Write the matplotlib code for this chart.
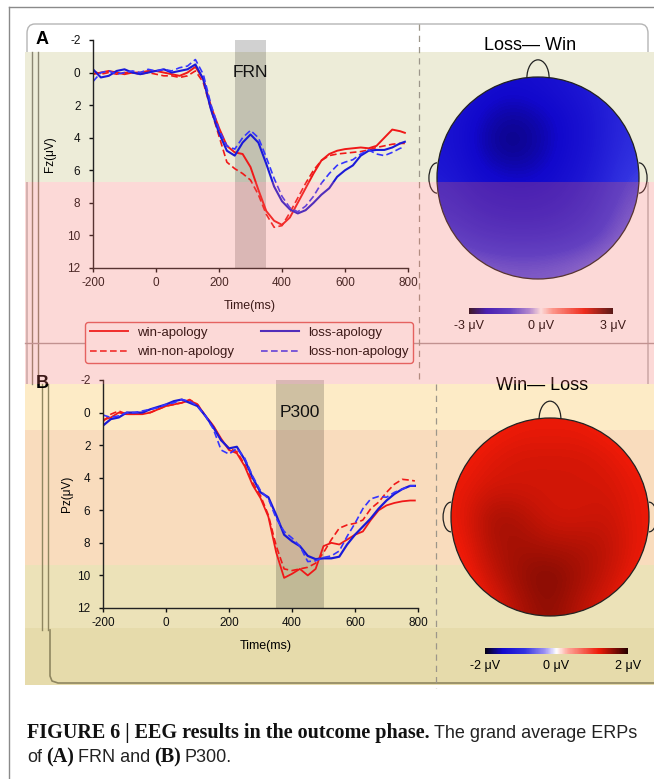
import numpy as np
import matplotlib
matplotlib.use("Agg")
import matplotlib.pyplot as plt
from matplotlib.colors import LinearSegmentedColormap, Normalize
from matplotlib.patches import Rectangle, Circle, Arc, FancyBboxPatch
from matplotlib.lines import Line2D
from matplotlib.cm import ScalarMappable

plt.rcParams['font.family'] = ['Liberation Sans', 'DejaVu Sans']
plt.rcParams['axes.unicode_minus'] = False

# ---- data ----
time_ms = list(range(-200, 801, 25))

# (A) Fz, FRN
fz_win_apology = [0.1, 0.0, -0.1, 0.0, 0.1, 0.0, 0.0, -0.1, -0.1, 0.0, 0.1, 0.2, 0.0, -0.35, 0.4,
                  2.1, 3.4, 4.5, 4.9, 5.0, 5.8, 7.2, 8.5, 9.1, 9.35, 8.9, 8.0, 7.1, 6.2, 5.4,
                  5.0, 4.8, 4.7, 4.65, 4.6, 4.65, 4.5, 4.0, 3.5, 3.6, 3.7]
fz_win_non_apology = [-0.1, 0.1, 0.0, 0.1, 0.0, 0.0, 0.1, 0.0, 0.1, 0.2, 0.2, 0.3, 0.2, -0.1, 0.6,
                      2.3, 3.9, 5.5, 5.9, 6.2, 6.6, 7.5, 8.7, 9.5, 9.4, 8.6, 7.7, 6.8, 6.0, 5.4,
                      5.1, 5.0, 4.95, 4.9, 4.85, 4.75, 4.6, 4.5, 4.4, 4.35, 4.35]
fz_loss_apology = [-0.2, 0.3, 0.2, -0.1, -0.2, 0.0, 0.1, 0.0, -0.1, -0.2, 0.0, -0.1, -0.2, -0.5, 0.4,
                   2.3, 3.7, 4.8, 5.1, 4.3, 3.8, 4.3, 5.6, 7.0, 7.9, 8.4, 8.65, 8.45, 8.0, 7.5,
                   7.1, 6.4, 6.0, 5.7, 5.1, 4.8, 4.75, 4.75, 4.6, 4.35, 4.25]
fz_loss_non_apology = [0.55, 0.0, -0.1, 0.1, 0.0, -0.1, 0.0, -0.2, -0.1, -0.2, -0.1, -0.3, -0.4, -0.8, 0.1,
                       2.0, 3.5, 4.5, 4.7, 4.0, 3.55, 4.0, 5.2, 6.5, 7.6, 8.3, 8.55, 8.2, 7.6, 6.8,
                       6.2, 5.7, 5.5, 5.35, 5.0, 4.75, 5.0, 5.1, 4.9, 4.65, 4.6]

# (B) Pz, P300
pz_win_apology = [0.45, 0.3, 0.0, 0.1, 0.1, 0.1, 0.0, -0.2, -0.4, -0.5, -0.6, -0.75, -0.5, 0.2, 0.8,
                  1.6, 2.3, 2.5, 3.3, 4.45, 5.25, 6.4, 8.6, 10.15, 9.9, 9.6, 10.0, 9.6, 8.2, 8.0,
                  8.1, 7.8, 7.5, 7.3, 6.6, 6.0, 5.7, 5.55, 5.45, 5.4, 5.4]
pz_win_non_apology = [0.55, 0.1, -0.1, 0.1, 0.1, 0.0, 0.0, -0.2, -0.4, -0.5, -0.6, -0.8, -0.5, 0.2, 0.8,
                      1.7, 2.2, 2.4, 3.2, 4.3, 5.1, 6.3, 8.2, 9.6, 9.7, 9.6, 9.5, 9.25, 8.6, 7.8,
                      7.1, 6.9, 6.8, 6.6, 5.9, 5.5, 4.9, 4.4, 4.1, 4.15, 4.2]
pz_loss_apology = [0.8, 0.4, 0.3, 0.0, 0.0, 0.0, -0.2, -0.35, -0.5, -0.7, -0.8, -0.6, -0.4, 0.2, 0.9,
                   1.7, 2.2, 2.1, 2.9, 4.0, 4.9, 5.2, 6.3, 7.5, 7.9, 8.2, 8.8, 9.0, 8.95, 8.95,
                   8.85, 8.1, 7.5, 7.0, 6.5, 5.9, 5.4, 5.0, 4.7, 4.5, 4.5]
pz_loss_non_apology = [0.15, 0.3, 0.2, 0.0, 0.0, -0.1, -0.2, -0.3, -0.5, -0.6, -0.8, -0.7, -0.4, 0.2, 1.0,
                       2.3, 2.55, 2.2, 2.8, 3.9, 4.8, 5.3, 6.5, 7.3, 7.7, 8.2, 9.15, 9.1, 8.9, 8.8,
                       8.5, 7.6, 6.8, 5.9, 5.3, 5.15, 5.2, 4.9, 4.7, 4.5, 4.5]

frn_window = [250, 350]
p300_window = [350, 500]

# scalp maps, rows front (nose) to back, columns left to right, in µV
topo_loss_win = [
    [-1.9, -2.1, -2.2, -2.15, -2.0, -1.8, -1.5],
    [-2.0, -2.3, -2.5, -2.4, -2.2, -1.9, -1.5],
    [-2.0, -2.35, -2.6, -2.45, -2.2, -1.9, -1.4],
    [-1.9, -2.2, -2.3, -2.3, -2.1, -1.8, -1.2],
    [-1.7, -2.0, -2.1, -2.1, -1.95, -1.6, -1.0],
    [-1.3, -1.6, -1.7, -1.7, -1.6, -1.3, -0.8],
    [-0.7, -0.9, -1.0, -1.0, -0.9, -0.7, -0.5],
]
topo_win_loss = [
    [1.1, 1.15, 1.2, 1.2, 1.2, 1.15, 1.1],
    [1.15, 1.25, 1.3, 1.3, 1.3, 1.25, 1.15],
    [1.2, 1.3, 1.3, 1.3, 1.3, 1.3, 1.2],
    [1.2, 1.5, 1.45, 1.3, 1.3, 1.35, 1.2],
    [1.15, 1.45, 1.5, 1.45, 1.45, 1.4, 1.2],
    [1.1, 1.35, 1.55, 1.65, 1.5, 1.35, 1.15],
    [1.0, 1.2, 1.45, 1.6, 1.4, 1.25, 1.05],
]

W, H = 654, 779
RED = '#f01818'
BLUE = '#1a1ad8'
BLUE_D = '#3535ff'

cmap = LinearSegmentedColormap.from_list('erp', [
    (0.0, (0.02, 0.0, 0.08)),
    (0.12, (0.07, 0.03, 0.8)),
    (0.28, (0.2, 0.2, 0.88)),
    (0.42, (0.62, 0.58, 0.95)),
    (0.5, (1.0, 1.0, 1.0)),
    (0.58, (1.0, 0.65, 0.6)),
    (0.8, (0.93, 0.1, 0.03)),
    (1.0, (0.15, 0.0, 0.0)),
])


def fx(x):
    return x / W


def fy(y):
    return 1 - y / H


def box(l, t, r, b):
    return [fx(l), fy(b), (r - l) / W, (b - t) / H]


fig = plt.figure(figsize=(W / 100, H / 100), dpi=100)


def fig_rect(l, t, r, b, color, z, alpha=1.0):
    fig.add_artist(Rectangle((fx(l), fy(b)), (r - l) / W, (b - t) / H, transform=fig.transFigure,
                             fc=color, ec='none', alpha=alpha, zorder=z))


def fig_line(xs, ys, color, lw=1.0, z=2, **kw):
    fig.add_artist(Line2D([fx(x) for x in xs], [fy(y) for y in ys], transform=fig.transFigure,
                          color=color, lw=lw, zorder=z, **kw))


# frames
fig_line([9, 654], [7, 7], '#8a8a8a', 1.0, -3)
fig_line([9, 9], [7, 779], '#8a8a8a', 1.0, -3)
fig.add_artist(FancyBboxPatch((fx(27), fy(680)), (648 - 27) / W, (680 - 24) / H,
                              boxstyle='round,pad=0,rounding_size=0.012', transform=fig.transFigure,
                              fc='none', ec='#b5b5b5', lw=1.0, zorder=-3))

# background strips
fig_rect(25, 52, 654, 182, '#edecd8', -1)
fig_rect(25, 384, 654, 430, '#fdebc6', -1)
fig_rect(25, 430, 654, 565, '#f9dcbd', -1)
fig_rect(25, 565, 654, 628, '#ece2b8', -1)
fig_rect(25, 628, 654, 685, '#e6dbab', -1)

# inner frame lines over the strips
fig_line([32, 32], [52, 384], '#8a8672', 1.0, 1)
fig_line([38, 38], [52, 384], '#8a8672', 1.0, 1)
fig_line([25, 654], [343, 343], '#b0a0a0', 1.0, 1)
fig_line([42, 42], [384, 630], '#8f8660', 1.0, 1)
fig_line([48, 48], [384, 630], '#8f8660', 1.0, 1)
fig_line([50, 50, 52, 58, 654], [630, 676, 681, 683, 683], '#8f8660', 1.2, 1)
fig_line([419, 419], [24, 384], '#9c968a', 0.9, 2, dashes=(5, 4))
fig_line([436, 436], [384, 688], '#9c968a', 0.9, 2, dashes=(5, 4))


def erp_panel(rect, series, win, comp, comp_x, ylab, ylab_x, xlab_x):
    ax = fig.add_axes(rect)
    ax.patch.set_alpha(0)
    ax.axvspan(win[0], win[1], color='k', alpha=0.18, lw=0, zorder=0)
    for vals, col, ls, lw, lab in series:
        if ls == '--':
            ax.plot(time_ms[:-1] + [790], vals, color=col, lw=lw, dashes=(4, 2), label=lab)
        else:
            ax.plot(time_ms[:-1] + [790], vals, color=col, lw=lw, label=lab)
    ax.set_xlim(-200, 800)
    ax.set_ylim(12, -2)
    ax.set_xticks(range(-200, 801, 200))
    ax.set_yticks(range(-2, 13, 2))
    for s in ['top', 'right']:
        ax.spines[s].set_visible(False)
    for s in ['left', 'bottom']:
        ax.spines[s].set_color('#222222')
        ax.spines[s].set_linewidth(1.0)
    ax.tick_params(direction='out', length=3, width=1, labelsize=8.5, colors='#111111')
    ax.tick_params(axis='y', pad=6)
    ax.text(comp_x, 0, comp, fontsize=12.5, ha='center', va='center', color='#111111')
    ax.text(ylab_x, 0.5, ylab, rotation=90, fontsize=8.5, ha='center', va='center',
            transform=ax.transAxes)
    ax.text(xlab_x, -0.167, 'Time(ms)', fontsize=9, ha='center', va='center',
            transform=ax.transAxes)
    return ax


axA = erp_panel(box(93, 40, 408, 268),
                [(fz_win_apology, RED, '-', 1.4, 'win-apology'),
                 (fz_win_non_apology, RED, '--', 1.2, 'win-non-apology'),
                 (fz_loss_apology, BLUE, '-', 1.5, 'loss-apology'),
                 (fz_loss_non_apology, BLUE_D, '--', 1.2, 'loss-non-apology')],
                frn_window, 'FRN', 300, 'Fz(\u03bcV)', -0.135, 0.498)

axB = erp_panel(box(103, 380, 418, 608),
                [(pz_win_apology, RED, '-', 1.3, 'win-apology'),
                 (pz_win_non_apology, RED, '--', 1.2, 'win-non-apology'),
                 (pz_loss_apology, BLUE, '-', 1.6, 'loss-apology'),
                 (pz_loss_non_apology, BLUE_D, '--', 1.2, 'loss-non-apology')],
                p300_window, 'P300', 425, 'Pz(\u03bcV)', -0.114, 0.517)

handles, labels = axA.get_legend_handles_labels()
leg = fig.legend(handles, labels, ncol=2, loc='upper left',
                 bbox_to_anchor=(fx(85), fy(322)), fontsize=9.5, handlelength=2.9,
                 columnspacing=2.0, handletextpad=0.7, labelspacing=0.55,
                 borderpad=0.35, borderaxespad=0, frameon=True, fancybox=True, framealpha=1)
leg.get_frame().set_edgecolor('#e06060')
leg.get_frame().set_linewidth(1.0)

fig.text(fx(42), fy(40), 'A', fontsize=13, fontweight='bold', ha='center', va='center')
fig.text(fx(42), fy(383), 'B', fontsize=13, fontweight='bold', ha='center', va='center')


def topo_panel(cx, cy, r, grid, vmax, title, title_y, cb):
    s = 1.22
    ax = fig.add_axes(box(cx - s * r, cy - s * r, cx + s * r, cy + s * r))
    im = ax.imshow(grid, cmap=cmap, vmin=-vmax, vmax=vmax, extent=(-1.05, 1.05, -1.05, 1.05),
                   interpolation='bicubic', origin='upper')
    im.set_clip_path(Circle((0, 0), 1.0, transform=ax.transData))
    ax.add_patch(Circle((0, 0), 1.0, fill=False, lw=0.9, ec='#222222'))
    ax.add_patch(Arc((0, 0.99), 0.22, 0.36, theta1=0, theta2=180, lw=0.9, color='#222222'))
    ax.add_patch(Arc((-1.0, 0.0), 0.16, 0.3, theta1=90, theta2=270, lw=0.9, color='#222222'))
    ax.add_patch(Arc((1.0, 0.0), 0.16, 0.3, theta1=-90, theta2=90, lw=0.9, color='#222222'))
    ax.set_xlim(-s, s)
    ax.set_ylim(-s, s)
    ax.axis('off')
    fig.text(fx(cx - 8), fy(title_y), title, fontsize=13, ha='center', va='center')

    cax = fig.add_axes(box(*cb))
    bar = fig.colorbar(ScalarMappable(Normalize(-vmax, vmax), cmap), cax=cax, orientation='horizontal')
    bar.outline.set_visible(False)
    bar.set_ticks([-vmax, 0, vmax])
    bar.set_ticklabels(['-%d \u03bcV' % vmax, '0 \u03bcV', '%d \u03bcV' % vmax])
    cax.tick_params(length=0, labelsize=9, pad=4)


topo_panel(538, 178, 101, topo_loss_win, 3, 'Loss\u2014 Win', 45, (469, 308, 613, 314))
topo_panel(550, 517, 99, topo_win_loss, 2, 'Win\u2014 Loss', 386, (485, 648, 628, 654))

# pink wash across the lower strip of panel A
fig_rect(25, 182, 654, 384, '#f76b63', 10, alpha=0.25)

# caption, mixed weights on one line
renderer = fig.canvas.get_renderer()


def caption_line(pieces, x, y):
    for txt, bold in pieces:
        if bold:
            t = fig.text(fx(x), fy(y), txt, fontsize=14.5, fontweight='bold',
                         family='Liberation Serif', va='baseline', color='#111111')
        else:
            t = fig.text(fx(x), fy(y), txt, fontsize=13, va='baseline', color='#222222')
        x += t.get_window_extent(renderer=renderer).width + 4


caption_line([('FIGURE 6 | EEG results in the outcome phase.', True),
              ('The grand average ERPs', False)], 27, 738)
caption_line([('of', False), ('(A)', True), ('FRN and', False), ('(B)', True), ('P300.', False)], 27, 762)

fig.savefig('out.png', dpi=100)
